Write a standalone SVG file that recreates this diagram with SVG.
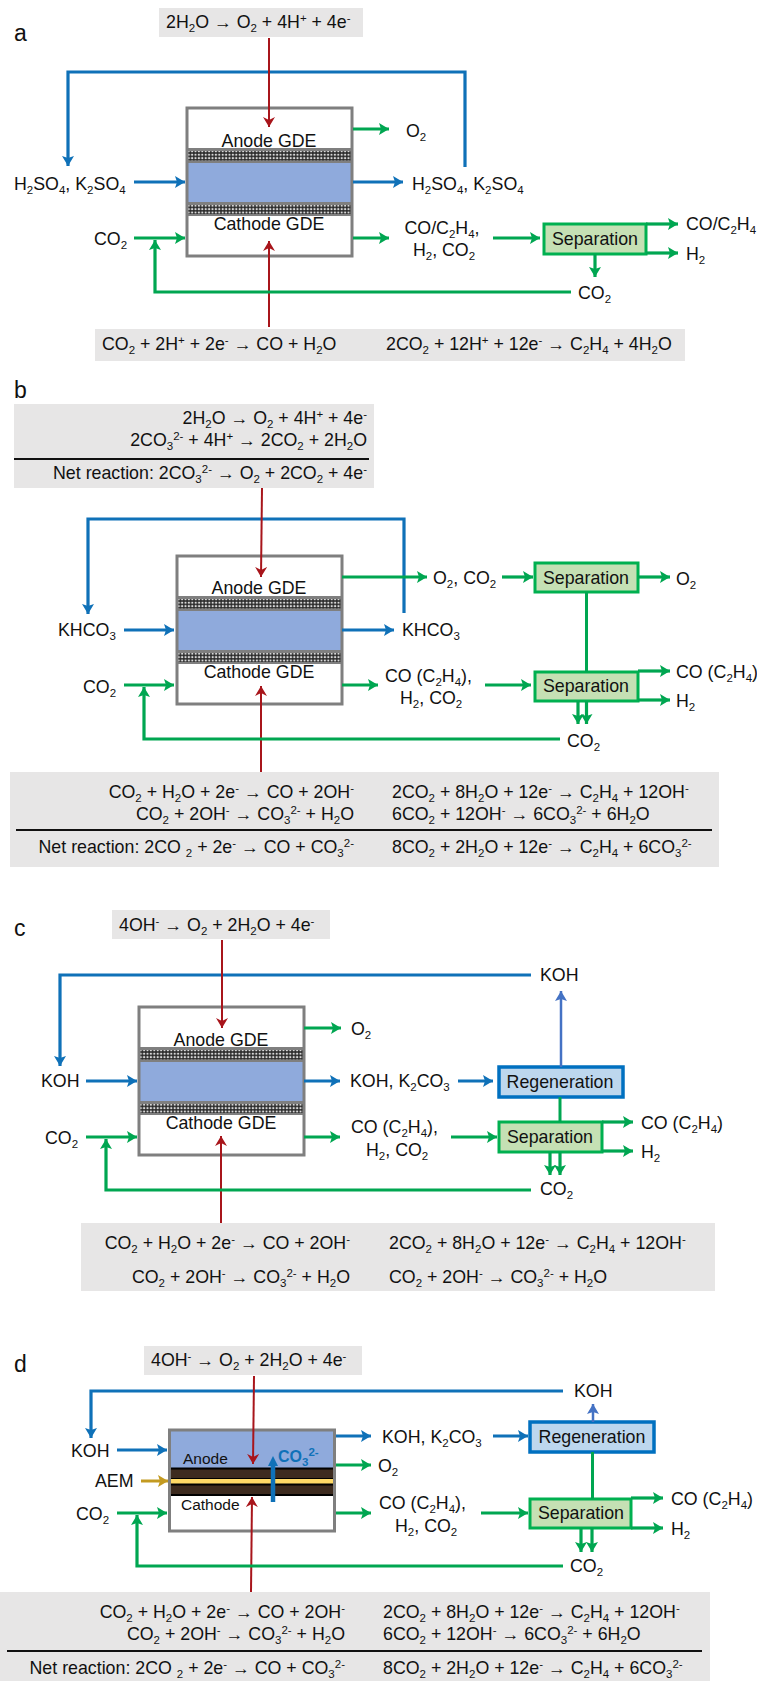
<svg xmlns="http://www.w3.org/2000/svg" width="757" height="1681" viewBox="0 0 757 1681">
<style>
text{font-family:"Liberation Sans",Arial,sans-serif;font-size:17.8px;fill:#111}
.m{text-anchor:middle}.e{text-anchor:end}
.d{font-size:11.5px;baseline-shift:-4px}
.u{font-size:11.5px;baseline-shift:6px}
.p{font-size:23px}
.box{fill:#e7e6e6}
.rule{stroke:#111;stroke-width:2;fill:none}
.out{fill:none;stroke:#7f7f7f;stroke-width:3}
.wh{fill:#fff}.bl{fill:#8faadc}
.gy{fill:#7f7f7f}
.sep{fill:#c5e0b4;stroke:#00b050;stroke-width:3}
.reg{fill:#bdd7ee;stroke:#0070c0;stroke-width:3.5}
.c{fill:none;stroke-linejoin:miter}
.g{stroke:#00a651;stroke-width:3.2;marker-end:url(#ag)}
.gn{stroke:#00a651;stroke-width:3}
.b{stroke:#0f71b8;stroke-width:3.2;marker-end:url(#ab)}
.b2{stroke:#4472c4;stroke-width:2.5;marker-end:url(#ai)}
.r{stroke:#a8151b;stroke-width:2;marker-end:url(#ar)}
.y{stroke:#c39a21;stroke-width:3;marker-end:url(#ay)}
</style>
<defs>
<marker id="ag" markerUnits="userSpaceOnUse" markerWidth="11" markerHeight="12" refX="10" refY="6" orient="auto"><path d="M0 0L10 6L0 12L2 6Z" fill="#00a651"/></marker>
<marker id="ab" markerUnits="userSpaceOnUse" markerWidth="11" markerHeight="12" refX="10" refY="6" orient="auto"><path d="M0 0L10 6L0 12L2 6Z" fill="#0f71b8"/></marker>
<marker id="ai" markerUnits="userSpaceOnUse" markerWidth="11" markerHeight="12" refX="10" refY="6" orient="auto"><path d="M0 0L10 6L0 12L2 6Z" fill="#4472c4"/></marker>
<marker id="ar" markerUnits="userSpaceOnUse" markerWidth="11" markerHeight="12" refX="10" refY="6" orient="auto"><path d="M0 0L10 6L0 12L3 6Z" fill="#a8151b"/></marker>
<marker id="ay" markerUnits="userSpaceOnUse" markerWidth="11" markerHeight="12" refX="10" refY="6" orient="auto"><path d="M0 0L10 6L0 12L2 6Z" fill="#c39a21"/></marker>
<pattern id="dots" width="3.4" height="3.4" patternUnits="userSpaceOnUse"><rect width="3.4" height="3.4" fill="#2b2b2b"/><circle cx="1.7" cy="1.7" r="1.15" fill="#d8d8d8"/></pattern>
<g id="cell">
<rect class="wh" x="187" y="108" width="165" height="148"/>
<rect class="gy" x="187" y="148" width="165" height="68"/>
<rect x="187" y="151" width="165" height="9.5" fill="url(#dots)"/>
<rect class="bl" x="187" y="163" width="165" height="39"/>
<rect x="187" y="205" width="165" height="9" fill="url(#dots)"/>
<rect class="out" x="187" y="108" width="165" height="148"/>
</g>
</defs>
<rect width="757" height="1681" fill="#fff"/>

<g id="panel-a">
<g id="a-label"><text class="p" x="14" y="41">a</text></g>
<g id="a-anode-rxn"><rect class="box" x="159" y="8" width="204" height="29"/><text x="166" y="28">2H<tspan class="d">2</tspan>O → O<tspan class="d">2</tspan> + 4H<tspan class="u">+</tspan> + 4e<tspan class="u">-</tspan></text></g>
<g id="a-cell"><use href="#cell"/><text class="m" x="269" y="147">Anode GDE</text><text class="m" x="269" y="230">Cathode GDE</text></g>
<g id="a-o2"><text x="406" y="137">O<tspan class="d">2</tspan></text></g>
<g id="a-in-elec"><text x="14" y="190">H<tspan class="d">2</tspan>SO<tspan class="d">4</tspan>, K<tspan class="d">2</tspan>SO<tspan class="d">4</tspan></text></g>
<g id="a-out-elec"><text x="412" y="190">H<tspan class="d">2</tspan>SO<tspan class="d">4</tspan>, K<tspan class="d">2</tspan>SO<tspan class="d">4</tspan></text></g>
<g id="a-co2-in"><text x="94" y="245">CO<tspan class="d">2</tspan></text></g>
<g id="a-products"><text class="m" x="442" y="234">CO/C<tspan class="d">2</tspan>H<tspan class="d">4</tspan>,</text><text class="m" x="444" y="256">H<tspan class="d">2</tspan>, CO<tspan class="d">2</tspan></text></g>
<g id="a-sep"><rect class="sep" x="544" y="224" width="102" height="30"/><text class="m" x="595" y="245">Separation</text></g>
<g id="a-out1"><text x="686" y="230">CO/C<tspan class="d">2</tspan>H<tspan class="d">4</tspan></text></g>
<g id="a-out2"><text x="686" y="260">H<tspan class="d">2</tspan></text></g>
<g id="a-co2-rec"><text x="578" y="299">CO<tspan class="d">2</tspan></text></g>
<g id="a-cathode-rxn"><rect class="box" x="95" y="329" width="590" height="32"/><text x="102" y="350">CO<tspan class="d">2</tspan> + 2H<tspan class="u">+</tspan> + 2e<tspan class="u">-</tspan> → CO + H<tspan class="d">2</tspan>O</text><text x="386" y="350">2CO<tspan class="d">2</tspan> + 12H<tspan class="u">+</tspan> + 12e<tspan class="u">-</tspan> → C<tspan class="d">2</tspan>H<tspan class="d">4</tspan> + 4H<tspan class="d">2</tspan>O</text></g>
</g>

<g id="panel-b">
<g id="b-label"><text class="p" x="14" y="398">b</text></g>
<g id="b-anode-rxn"><rect class="box" x="14" y="404" width="360" height="84"/><text class="e" x="367" y="424">2H<tspan class="d">2</tspan>O → O<tspan class="d">2</tspan> + 4H<tspan class="u">+</tspan> + 4e<tspan class="u">-</tspan></text><text class="e" x="367" y="446">2CO<tspan class="d">3</tspan><tspan class="u">2-</tspan> + 4H<tspan class="u">+</tspan> → 2CO<tspan class="d">2</tspan> + 2H<tspan class="d">2</tspan>O</text><path class="rule" d="M14 459H369"/><text class="e" x="367" y="479">Net reaction: 2CO<tspan class="d">3</tspan><tspan class="u">2-</tspan> → O<tspan class="d">2</tspan> + 2CO<tspan class="d">2</tspan> + 4e<tspan class="u">-</tspan></text></g>
<g id="b-cell"><use href="#cell" x="-10" y="448"/><text class="m" x="259" y="594">Anode GDE</text><text class="m" x="259" y="678">Cathode GDE</text></g>
<g id="b-in-elec"><text x="58" y="636">KHCO<tspan class="d">3</tspan></text></g>
<g id="b-out-elec"><text x="402" y="636">KHCO<tspan class="d">3</tspan></text></g>
<g id="b-co2-in"><text x="83" y="693">CO<tspan class="d">2</tspan></text></g>
<g id="b-o2co2"><text x="433" y="584">O<tspan class="d">2</tspan>, CO<tspan class="d">2</tspan></text></g>
<g id="b-sep1"><rect class="sep" x="535" y="563" width="103" height="29"/><text class="m" x="586" y="584">Separation</text></g>
<g id="b-o2"><text x="676" y="585">O<tspan class="d">2</tspan></text></g>
<g id="b-products"><text x="385" y="682">CO (C<tspan class="d">2</tspan>H<tspan class="d">4</tspan>),</text><text x="400" y="704">H<tspan class="d">2</tspan>, CO<tspan class="d">2</tspan></text></g>
<g id="b-sep2"><rect class="sep" x="535" y="672" width="103" height="29"/><text class="m" x="586" y="692">Separation</text></g>
<g id="b-out1"><text x="676" y="678">CO (C<tspan class="d">2</tspan>H<tspan class="d">4</tspan>)</text></g>
<g id="b-out2"><text x="676" y="707">H<tspan class="d">2</tspan></text></g>
<g id="b-co2-rec"><text x="567" y="747">CO<tspan class="d">2</tspan></text></g>
<g id="b-cathode-rxn"><rect class="box" x="10" y="772" width="709" height="95"/>
<text class="e" x="354" y="798">CO<tspan class="d">2</tspan> + H<tspan class="d">2</tspan>O + 2e<tspan class="u">-</tspan> → CO + 2OH<tspan class="u">-</tspan></text><text x="392" y="798">2CO<tspan class="d">2</tspan> + 8H<tspan class="d">2</tspan>O + 12e<tspan class="u">-</tspan> → C<tspan class="d">2</tspan>H<tspan class="d">4</tspan> + 12OH<tspan class="u">-</tspan></text>
<text class="e" x="354" y="820">CO<tspan class="d">2</tspan> + 2OH<tspan class="u">-</tspan> → CO<tspan class="d">3</tspan><tspan class="u">2-</tspan> + H<tspan class="d">2</tspan>O</text><text x="392" y="820">6CO<tspan class="d">2</tspan> + 12OH<tspan class="u">-</tspan> → 6CO<tspan class="d">3</tspan><tspan class="u">2-</tspan> + 6H<tspan class="d">2</tspan>O</text>
<path class="rule" d="M16 830H712"/>
<text class="e" x="354" y="853">Net reaction: 2CO <tspan class="d">2</tspan> + 2e<tspan class="u">-</tspan> → CO + CO<tspan class="d">3</tspan><tspan class="u">2-</tspan></text><text x="392" y="853">8CO<tspan class="d">2</tspan> + 2H<tspan class="d">2</tspan>O + 12e<tspan class="u">-</tspan> → C<tspan class="d">2</tspan>H<tspan class="d">4</tspan> + 6CO<tspan class="d">3</tspan><tspan class="u">2-</tspan></text></g>
</g>

<g id="panel-c">
<g id="c-label"><text class="p" x="14" y="936">c</text></g>
<g id="c-anode-rxn"><rect class="box" x="112" y="910" width="218" height="29"/><text x="119" y="931">4OH<tspan class="u">-</tspan> → O<tspan class="d">2</tspan> + 2H<tspan class="d">2</tspan>O + 4e<tspan class="u">-</tspan></text></g>
<g id="c-koh-top"><text x="540" y="981">KOH</text></g>
<g id="c-cell"><use href="#cell" x="-48" y="899"/><text class="m" x="221" y="1046">Anode GDE</text><text class="m" x="221" y="1129">Cathode GDE</text></g>
<g id="c-o2"><text x="351" y="1035">O<tspan class="d">2</tspan></text></g>
<g id="c-koh-in"><text x="41" y="1087">KOH</text></g>
<g id="c-koh-out"><text x="350" y="1087">KOH, K<tspan class="d">2</tspan>CO<tspan class="d">3</tspan></text></g>
<g id="c-reg"><rect class="reg" x="499" y="1067" width="124" height="30"/><text class="m" x="560" y="1088">Regeneration</text></g>
<g id="c-co2-in"><text x="45" y="1144">CO<tspan class="d">2</tspan></text></g>
<g id="c-products"><text x="351" y="1133">CO (C<tspan class="d">2</tspan>H<tspan class="d">4</tspan>),</text><text x="366" y="1156">H<tspan class="d">2</tspan>, CO<tspan class="d">2</tspan></text></g>
<g id="c-sep"><rect class="sep" x="499" y="1122" width="103" height="30"/><text class="m" x="550" y="1143">Separation</text></g>
<g id="c-out1"><text x="641" y="1129">CO (C<tspan class="d">2</tspan>H<tspan class="d">4</tspan>)</text></g>
<g id="c-out2"><text x="641" y="1158">H<tspan class="d">2</tspan></text></g>
<g id="c-co2-rec"><text x="540" y="1195">CO<tspan class="d">2</tspan></text></g>
<g id="c-cathode-rxn"><rect class="box" x="81" y="1223" width="634" height="68"/>
<text class="e" x="350" y="1249">CO<tspan class="d">2</tspan> + H<tspan class="d">2</tspan>O + 2e<tspan class="u">-</tspan> → CO + 2OH<tspan class="u">-</tspan></text><text x="389" y="1249">2CO<tspan class="d">2</tspan> + 8H<tspan class="d">2</tspan>O + 12e<tspan class="u">-</tspan> → C<tspan class="d">2</tspan>H<tspan class="d">4</tspan> + 12OH<tspan class="u">-</tspan></text>
<text class="e" x="350" y="1283">CO<tspan class="d">2</tspan> + 2OH<tspan class="u">-</tspan> → CO<tspan class="d">3</tspan><tspan class="u">2-</tspan> + H<tspan class="d">2</tspan>O</text><text x="389" y="1283">CO<tspan class="d">2</tspan> + 2OH<tspan class="u">-</tspan> → CO<tspan class="d">3</tspan><tspan class="u">2-</tspan> + H<tspan class="d">2</tspan>O</text></g>
</g>

<g id="panel-d">
<g id="d-label"><text class="p" x="14" y="1372">d</text></g>
<g id="d-anode-rxn"><rect class="box" x="144" y="1346" width="218" height="29"/><text x="151" y="1366">4OH<tspan class="u">-</tspan> → O<tspan class="d">2</tspan> + 2H<tspan class="d">2</tspan>O + 4e<tspan class="u">-</tspan></text></g>
<g id="d-koh-top"><text x="574" y="1397">KOH</text></g>
<g id="d-cell">
<rect class="wh" x="169.5" y="1430" width="165" height="101"/>
<rect class="bl" x="169.5" y="1430" width="165" height="38"/>
<rect x="169.5" y="1468.5" width="165" height="10.5" fill="#3d2b1f" stroke="#000" stroke-width="2"/>
<rect x="169.5" y="1479" width="165" height="5" fill="#ffd966"/>
<rect x="169.5" y="1484.5" width="165" height="10.5" fill="#3d2b1f" stroke="#000" stroke-width="2"/>
<rect class="out" x="169.5" y="1430" width="165" height="101"/>
<text x="183" y="1464" style="font-size:15.5px">Anode</text>
<text x="181" y="1510" style="font-size:15.5px">Cathode</text>
<text x="278" y="1462" style="fill:#0f71b8;font-weight:bold;font-size:16px">CO<tspan class="d">3</tspan><tspan class="u">2-</tspan></text>
</g>
<g id="d-koh-in"><text x="71" y="1457">KOH</text></g>
<g id="d-aem"><text x="95" y="1487">AEM</text></g>
<g id="d-co2-in"><text x="76" y="1520">CO<tspan class="d">2</tspan></text></g>
<g id="d-koh-out"><text x="382" y="1443">KOH, K<tspan class="d">2</tspan>CO<tspan class="d">3</tspan></text></g>
<g id="d-o2"><text x="378" y="1472">O<tspan class="d">2</tspan></text></g>
<g id="d-reg"><rect class="reg" x="530" y="1422" width="124" height="30"/><text class="m" x="592" y="1443">Regeneration</text></g>
<g id="d-products"><text x="379" y="1509">CO (C<tspan class="d">2</tspan>H<tspan class="d">4</tspan>),</text><text x="395" y="1532">H<tspan class="d">2</tspan>, CO<tspan class="d">2</tspan></text></g>
<g id="d-sep"><rect class="sep" x="530" y="1499" width="101" height="29"/><text class="m" x="581" y="1519">Separation</text></g>
<g id="d-out1"><text x="671" y="1505">CO (C<tspan class="d">2</tspan>H<tspan class="d">4</tspan>)</text></g>
<g id="d-out2"><text x="671" y="1535">H<tspan class="d">2</tspan></text></g>
<g id="d-co2-rec"><text x="570" y="1572">CO<tspan class="d">2</tspan></text></g>
<g id="d-cathode-rxn"><rect class="box" x="0" y="1592" width="710" height="89"/>
<text class="e" x="345" y="1618">CO<tspan class="d">2</tspan> + H<tspan class="d">2</tspan>O + 2e<tspan class="u">-</tspan> → CO + 2OH<tspan class="u">-</tspan></text><text x="383" y="1618">2CO<tspan class="d">2</tspan> + 8H<tspan class="d">2</tspan>O + 12e<tspan class="u">-</tspan> → C<tspan class="d">2</tspan>H<tspan class="d">4</tspan> + 12OH<tspan class="u">-</tspan></text>
<text class="e" x="345" y="1640">CO<tspan class="d">2</tspan> + 2OH<tspan class="u">-</tspan> → CO<tspan class="d">3</tspan><tspan class="u">2-</tspan> + H<tspan class="d">2</tspan>O</text><text x="383" y="1640">6CO<tspan class="d">2</tspan> + 12OH<tspan class="u">-</tspan> → 6CO<tspan class="d">3</tspan><tspan class="u">2-</tspan> + 6H<tspan class="d">2</tspan>O</text>
<path class="rule" d="M7 1651H702"/>
<text class="e" x="345" y="1674">Net reaction: 2CO <tspan class="d">2</tspan> + 2e<tspan class="u">-</tspan> → CO + CO<tspan class="d">3</tspan><tspan class="u">2-</tspan></text><text x="383" y="1674">8CO<tspan class="d">2</tspan> + 2H<tspan class="d">2</tspan>O + 12e<tspan class="u">-</tspan> → C<tspan class="d">2</tspan>H<tspan class="d">4</tspan> + 6CO<tspan class="d">3</tspan><tspan class="u">2-</tspan></text></g>
</g>

<g id="connectors" class="c" fill="none">
<path class="b c" d="M465 167V72H68V166"/>
<path class="r c" d="M269 38V127"/>
<path class="r c" d="M269 327V241"/>
<path class="g c" d="M353 129H389"/>
<path class="b c" d="M134 182H185"/>
<path class="b c" d="M353 182H403"/>
<path class="g c" d="M134 238H185"/>
<path class="g c" d="M353 238H389"/>
<path class="g c" d="M571 292H155V240"/>
<path class="g c" d="M493 238H540"/>
<path class="g c" d="M646 224H678"/>
<path class="g c" d="M646 253H678"/>
<path class="g c" d="M595 254V277"/>
<path class="b c" d="M404 613V519H88V614"/>
<path class="r c" d="M262 488L261 577"/>
<path class="r c" d="M261 772V686"/>
<path class="g c" d="M342 577H427"/>
<path class="g c" d="M502 577H533"/>
<path class="g c" d="M638 577H670"/>
<path class="gn c" d="M586.500 592V672"/>
<path class="b c" d="M124 630H174"/>
<path class="b c" d="M342 630H394"/>
<path class="g c" d="M124 685H174"/>
<path class="g c" d="M342 685H378"/>
<path class="g c" d="M485 685H531"/>
<path class="g c" d="M638 671H670"/>
<path class="g c" d="M638 700H670"/>
<path class="g c" d="M578 701V724"/>
<path class="g c" d="M586.500 701V724"/>
<path class="g c" d="M560 739H144V687"/>
<path class="b c" d="M531 975H60V1066"/>
<path class="r c" d="M222 940V1028"/>
<path class="r c" d="M221 1223V1136"/>
<path class="g c" d="M304 1028H341"/>
<path class="b c" d="M86 1081H137"/>
<path class="b c" d="M304 1081H340"/>
<path class="b c" d="M458 1081H493"/>
<path class="b2 c" d="M561 1067V991"/>
<path class="gn c" d="M560 1097V1122"/>
<path class="g c" d="M86 1137H137"/>
<path class="g c" d="M304 1137H340"/>
<path class="g c" d="M451 1137H497"/>
<path class="g c" d="M602 1122H633"/>
<path class="g c" d="M602 1151H633"/>
<path class="g c" d="M550 1152V1175"/>
<path class="g c" d="M560 1152V1175"/>
<path class="g c" d="M531 1190H106V1139"/>
<path class="b c" d="M563 1391H91V1438"/>
<path class="r c" d="M254 1376L253 1464"/>
<path class="r c" d="M251 1592L252 1497"/>
<path class="b c" d="M336 1436H371"/>
<path class="b c" d="M493 1436H528"/>
<path class="b2 c" d="M593 1422V1404"/>
<path class="g c" d="M336 1465H371"/>
<path class="b c" d="M117 1450H167"/>
<path class="y c" d="M141 1481H168"/>
<path class="g c" d="M117 1513H167"/>
<path class="g c" d="M336 1513H371"/>
<path class="g c" d="M481 1513H528"/>
<path class="gn c" d="M592.500 1452V1499"/>
<path class="g c" d="M631 1498H663"/>
<path class="g c" d="M631 1528H663"/>
<path class="g c" d="M581 1528V1552"/>
<path class="g c" d="M592 1528V1552"/>
<path class="g c" d="M563 1566H137V1515"/>
<path d="M273 1502V1464" stroke="#0f71b8" stroke-width="4.500" fill="none"/>
<path d="M268 1466L273 1456L278 1466Z" fill="#0f71b8"/>
</g>
</svg>
